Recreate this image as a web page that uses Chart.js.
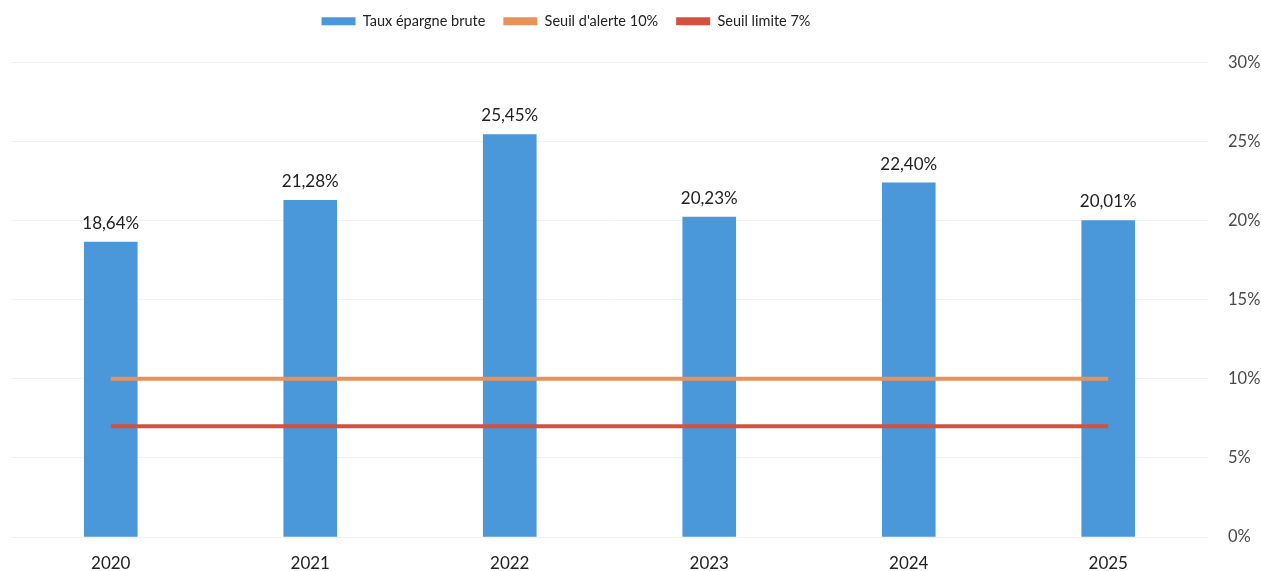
<!DOCTYPE html>
<html>
<head>
<meta charset="utf-8">
<script src="https://cdn.jsdelivr.net/npm/chart.js@4"></script>
<style>
html,body{margin:0;padding:0;background:#fff;}
#wrap{width:1261px;height:571px;position:relative;}
</style>
</head>
<body>
<div id="wrap"><canvas id="c" width="1261" height="571"></canvas></div>
<script>
const categories = ['2020','2021','2022','2023','2024','2025'];
const tauxEpargne = [18.64, 21.28, 25.45, 20.23, 22.40, 20.01];
const seuilAlerte = [10, 10, 10, 10, 10, 10];
const seuilLimite = [7, 7, 7, 7, 7, 7];
const barLabels = ['18,64%','21,28%','25,45%','20,23%','22,40%','20,01%'];

const FONT = 'Lato, "Open Sans", sans-serif';

const valueLabels = {
  id: 'valueLabels',
  afterDatasetsDraw(chart) {
    const ctx = chart.ctx;
    const meta = chart.getDatasetMeta(0);
    ctx.save();
    ctx.font = '17px ' + FONT;
    ctx.fillStyle = '#222';
    ctx.textAlign = 'center';
    ctx.textBaseline = 'bottom';
    meta.data.forEach((bar, i) => {
      ctx.fillText(barLabels[i], bar.x, bar.y - 10);
    });
    ctx.restore();
  }
};

const legendTweak = {
  id: 'legendTweak',
  afterInit(chart) {
    const lg = chart.legend;
    if (!lg) return;
    const origFit = lg.fit.bind(lg);
    lg.fit = function () {
      origFit();
      this.height += 20;
    };
  },
  afterLayout(chart) {
    const lg = chart.legend;
    if (!lg) return;
    lg.left -= 70;
    lg.right -= 70;
    lg.top -= 4;
    lg.bottom -= 4;
  }
};

new Chart(document.getElementById('c'), {
  type: 'bar',
  data: {
    labels: categories,
    datasets: [
      {
        label: 'Taux épargne brute',
        data: tauxEpargne,
        backgroundColor: '#4a97da',
        borderWidth: 0,
        barThickness: 53,
        order: 3
      },
      {
        type: 'line',
        label: "Seuil d'alerte 10%",
        data: seuilAlerte,
        borderColor: '#e8915a',
        backgroundColor: '#e8915a',
        borderWidth: 4,
        pointRadius: 0,
        order: 2
      },
      {
        type: 'line',
        label: 'Seuil limite 7%',
        data: seuilLimite,
        borderColor: '#d6503e',
        backgroundColor: '#d6503e',
        borderWidth: 4,
        pointRadius: 0,
        order: 1
      }
    ]
  },
  options: {
    responsive: false,
    animation: false,
    devicePixelRatio: 1,
    layout: { padding: { left: 11, right: 0, top: 0, bottom: 0 } },
    plugins: {
      legend: {
        position: 'top',
        labels: {
          font: { family: FONT, size: 14.5 },
          color: '#222',
          boxWidth: 34,
          boxHeight: 8,
          padding: 18,
          generateLabels(chart) {
            return chart.data.datasets.map((ds, i) => ({
              text: ds.label,
              fillStyle: ds.backgroundColor,
              strokeStyle: ds.backgroundColor,
              lineWidth: 0,
              hidden: false,
              datasetIndex: i,
              fontColor: '#222'
            }));
          }
        }
      },
      tooltip: { enabled: false }
    },
    scales: {
      x: {
        grid: { display: false, drawTicks: false },
        border: { display: false },
        ticks: { font: { family: FONT, size: 17 }, color: '#222', padding: 16 },
        afterFit(scale) { scale.height = 34; }
      },
      y: {
        position: 'right',
        min: 0,
        max: 30,
        ticks: {
          stepSize: 5,
          font: { family: FONT, size: 16.5 },
          color: '#4a4a4a',
          padding: 20,
          callback: v => v + '%'
        },
        grid: { color: '#f2f2f2', drawTicks: false },
        border: { display: false },
        afterFit(scale) { scale.width = 53; }
      }
    }
  },
  plugins: [valueLabels, legendTweak]
});
</script>
</body>
</html>
